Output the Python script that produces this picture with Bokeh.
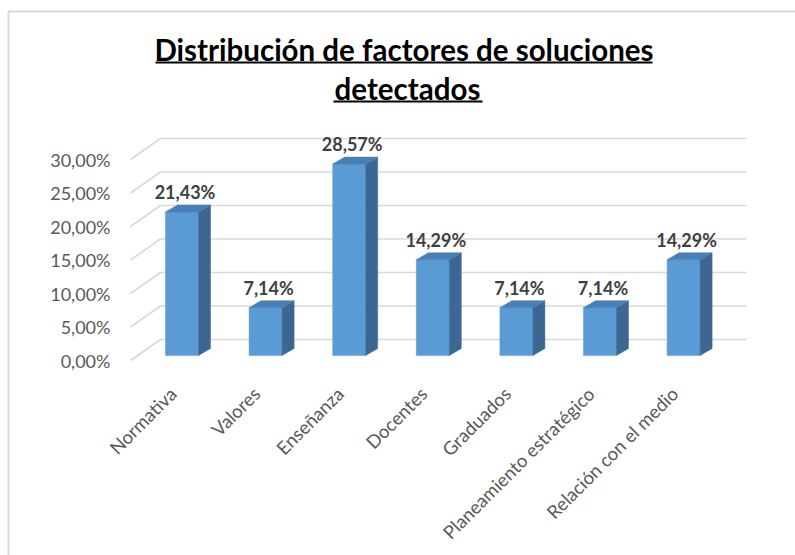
import math
from bokeh.plotting import figure
from bokeh.models import FixedTicker
from bokeh.core.properties import value
from bokeh.embed import file_html
from bokeh.resources import INLINE

# ---------------- data ----------------
categories = ["Normativa", "Valores", "Enseñanza", "Docentes", "Graduados",
              "Planeamiento estratégico", "Relación con el medio"]
values = [21.43, 7.14, 28.57, 14.29, 7.14, 7.14, 14.29]
value_labels = ["21,43%", "7,14%", "28,57%", "14,29%", "7,14%", "7,14%", "14,29%"]
y_ticks = [0, 5, 10, 15, 20, 25, 30]
y_tick_labels = ["0,00%", "5,00%", "10,00%", "15,00%", "20,00%", "25,00%", "30,00%"]
title_lines = ["Distribución de factores de soluciones", "detectados"]

# ---------------- layout (pixels) ----------------
W, H = 795, 555
PX_PER_CAT = 83.6
PX_PER_PCT = 6.7
TICK0_PX = 172.5     # first category tick (front plane)
BAR_SHIFT_PX = 9     # bars sit a little behind the front plane
ZERO_PX = 360
AXIS_X_PX = 125      # where the value axis sits
AXIS_Y_PX = 372      # where the category axis sits

x_start = -TICK0_PX / PX_PER_CAT
x_end = x_start + W / PX_PER_CAT
y_start = -(H - ZERO_PX) / PX_PER_PCT
y_end = y_start + H / PX_PER_PCT

def dx(px):
    return px / PX_PER_CAT

def dy(px):
    return px / PX_PER_PCT

def X(px):
    return x_start + px / PX_PER_CAT

def Y(px):
    return y_start + (H - px) / PX_PER_PCT

FONT = "Lato"
FRONT = "#5B9BD5"
SIDE = "#3D6793"
TOP = "#4A7FB6"
GRID = "#D9D9D9"

p = figure(width=W, height=H, x_range=(x_start, x_end), y_range=(y_start, y_end),
           output_backend="svg", toolbar_location=None,
           min_border_left=0, min_border_right=0, min_border_top=0, min_border_bottom=0)
p.outline_line_color = None
p.xgrid.visible = False
p.ygrid.visible = False
p.background_fill_color = "white"
p.border_fill_color = "white"

# ---------------- chart-area border ----------------
p.line(x=[X(8), X(8), X(W + 20)], y=[Y(H + 20), Y(11), Y(11)],
       line_color="#D9D9D9", line_width=2)

# ---------------- gridlines (3D walls) ----------------
g_xs, g_ys = [], []
for t in y_ticks:
    g_xs.append([X(130), X(130) + dx(30), X(746)])
    g_ys.append([t, t + dy(21), t + dy(21)])
p.multi_line(xs=g_xs, ys=g_ys, line_color=GRID, line_width=1.6)

# ---------------- 3D bars ----------------
half = dx(16.5)
shift = dx(BAR_SHIFT_PX)
sdx, sdy = dx(12), dy(7)
lift = dy(5)
lefts, rights, bottoms, tops = [], [], [], []
side_xs, side_ys, top_xs, top_ys = [], [], [], []
lab_x, lab_y = [], []
for i, v in enumerate(values):
    c = i + shift
    l, r = c - half, c + half
    b, t = lift, v + lift
    lefts.append(l); rights.append(r); bottoms.append(b); tops.append(t)
    side_xs.append([r, r + sdx, r + sdx, r])
    side_ys.append([b, b + sdy, t + sdy, t])
    top_xs.append([l, r, r + sdx, l + sdx])
    top_ys.append([t, t, t + sdy, t + sdy])
    lab_x.append(c + dx(3))
    lab_y.append(t + dy(20))

p.quad(left=lefts, right=rights, bottom=bottoms, top=tops,
       fill_color=FRONT, line_color=FRONT, line_width=0.5)
p.patches(xs=side_xs, ys=side_ys, fill_color=SIDE, line_color=SIDE, line_width=0.5)
p.patches(xs=top_xs, ys=top_ys, fill_color=TOP, line_color=TOP, line_width=0.5)

p.text(x=lab_x, y=lab_y, text=value_labels, text_font=value(FONT),
       text_font_size=value("18px"), text_font_style="bold",
       text_color="#404040", text_align="center", text_baseline="middle")

# ---------------- title ----------------
p.text(x=[X(403.5), X(407)], y=[Y(49), Y(88)], text=title_lines,
       text_font=value(FONT), text_font_size=value("29.5px"), text_font_style="bold",
       text_color="black", text_align="center", text_baseline="middle")
p.segment(x0=[X(155), X(333)], y0=[Y(62), Y(101)], x1=[X(652), X(482)], y1=[Y(62), Y(101)],
          line_color="black", line_width=2)

# ---------------- axes ----------------
p.yaxis.fixed_location = X(AXIS_X_PX)
p.yaxis.ticker = FixedTicker(ticks=y_ticks)
p.yaxis.major_label_overrides = {t: s for t, s in zip(y_ticks, y_tick_labels)}
p.yaxis.axis_line_color = None
p.yaxis.major_tick_line_color = None
p.yaxis.minor_tick_line_color = None
p.yaxis.major_label_standoff = 9
p.yaxis.major_label_text_font = FONT
p.yaxis.major_label_text_font_size = "18px"
p.yaxis.major_label_text_color = "#595959"

p.xaxis.fixed_location = Y(AXIS_Y_PX)
p.xaxis.ticker = FixedTicker(ticks=list(range(len(categories))))
p.xaxis.major_label_overrides = {i: c for i, c in enumerate(categories)}
p.xaxis.major_label_orientation = math.pi / 4
p.xaxis.axis_line_color = None
p.xaxis.major_tick_line_color = None
p.xaxis.minor_tick_line_color = None
p.xaxis.major_label_standoff = 12
p.xaxis.major_label_text_font = FONT
p.xaxis.major_label_text_font_size = "18.5px"
p.xaxis.major_label_text_color = "#595959"

open("out.html", "w").write(file_html(p, INLINE))
